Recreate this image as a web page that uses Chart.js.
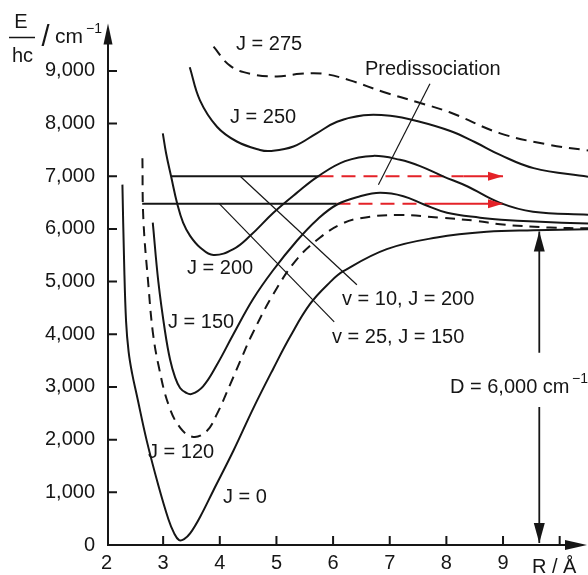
<!DOCTYPE html>
<html>
<head>
<meta charset="utf-8">
<script src="https://cdn.jsdelivr.net/npm/chart.js@4.4.1/dist/chart.umd.min.js"></script>
<style>
html, body { margin: 0; padding: 0; background: #fff; }
#wrap { width: 588px; height: 575px; }
</style>
</head>
<body>
<div id="wrap"><canvas id="chart" width="588" height="575"></canvas></div>
<script>
// R in angstrom, E/hc in cm^-1
const xTicks = [2, 3, 4, 5, 6, 7, 8, 9, 10];
const xTickLabels = ['2', '3', '4', '5', '6', '7', '8', '9', ''];
const yTicks = [0, 1000, 2000, 3000, 4000, 5000, 6000, 7000, 8000, 9000];

const rJ0 = [2.281, 2.311, 2.346, 2.39, 2.452, 2.535, 2.711, 2.916, 3.093, 3.193, 3.282, 3.37, 3.476, 3.652, 3.887, 4.24, 4.593, 4.946, 5.241, 5.594, 5.947, 6.182, 6.948, 7.831, 8.714, 9.537, 10.5];
const eJ0 = [6841, 5367, 4237, 3672, 3258, 2843, 1977, 1130, 490, 226, 94, 113, 220, 533, 1036, 1789, 2599, 3352, 3954, 4576, 4990, 5197, 5617, 5837, 5945, 5975, 5994];

const rJ120 = [2.634, 2.651, 2.74, 2.817, 2.916, 3.093, 3.299, 3.534, 3.771, 3.947, 4.182, 4.358, 4.565, 4.946, 5.359, 5.771, 6.124, 6.477, 7.13, 7.889, 8.542, 8.948, 9.831, 10.5];
const eJ120 = [7344, 6182, 4928, 4048, 3421, 2668, 2228, 2052, 2165, 2480, 3045, 3484, 3986, 4764, 5423, 5837, 6082, 6204, 6265, 6214, 6152, 6088, 6026, 6012];

const rJ150 = [2.817, 2.916, 3.034, 3.122, 3.211, 3.299, 3.405, 3.506, 3.705, 3.952, 4.235, 4.588, 4.941, 5.365, 5.718, 6.071, 6.477, 6.83, 7.241, 7.606, 8.012, 8.595, 8.966, 9.566, 10.5];
const eJ150 = [6120, 4990, 4048, 3521, 3182, 2981, 2890, 2868, 3013, 3427, 3992, 4670, 5216, 5781, 6176, 6464, 6619, 6685, 6622, 6464, 6308, 6214, 6176, 6139, 6101];

const rJ200 = [2.994, 3.052, 3.14, 3.252, 3.352, 3.476, 3.652, 3.887, 4.24, 4.535, 4.946, 5.359, 5.735, 6.212, 6.706, 7.183, 7.536, 7.942, 8.366, 8.948, 9.53, 10.5];
const eJ200 = [7814, 7438, 6999, 6464, 6120, 5869, 5649, 5504, 5617, 5869, 6308, 6685, 6999, 7287, 7387, 7312, 7193, 6999, 6811, 6496, 6327, 6270];

const rJ250 = [3.47, 3.65, 3.95, 4.30, 4.71, 4.89, 5.30, 5.71, 6.07, 6.54, 7.01, 7.48, 8.07, 8.5, 8.95, 9.54, 10.5];
const eJ250 = [9070, 8440, 7940, 7660, 7500, 7480, 7565, 7815, 8035, 8160, 8150, 8050, 7860, 7650, 7405, 7155, 6990];

const rJ275 = [3.89, 4.18, 4.54, 5.01, 5.42, 5.83, 6.30, 6.89, 7.48, 8.07, 8.95, 9.83, 10.5];
const eJ275 = [9460, 9100, 8945, 8895, 8945, 8945, 8820, 8600, 8410, 8210, 7815, 7595, 7490];

// vibrational-rotational levels
const rLevel10 = [3.14, 5.76];
const eLevel10 = [7000, 7000];
const rLevel25 = [2.63, 6.06];
const eLevel25 = [6480, 6480];
const rTunnel10 = [5.76, 8.3];
const rFree10 = [8.3, 9.0];
const rTunnel25 = [6.06, 7.62];
const rFree25 = [7.62, 9.0];

// leader lines for the labels
const rLead10 = [4.36, 6.42];
const eLead10 = [7000, 4940];
const rLead25 = [3.99, 6.02];
const eLead25 = [6480, 4237];
const rLeadPre = [6.80, 7.71];
const eLeadPre = [6840, 8756];

// dissociation energy arrow
const rD = [9.64, 9.64];
const eDUpper = [5950, 3650];
const eDLower = [2620, 40];

const INK = '#161616';
const RED = 'rgb(228, 34, 40)';
const FONT = '"Liberation Sans", Arial, sans-serif';

const pts = (r, e) => r.map((x, i) => ({ x: x, y: e[i] }));

function curve(label, r, e, dash) {
    return {
        label: label,
        data: pts(r, e),
        showLine: true,
        borderColor: INK,
        borderWidth: 2,
        borderDash: dash || [],
        pointRadius: 0,
        tension: 0.4,
        fill: false
    };
}

function straight(label, r, e, color, width, dash) {
    return {
        label: label,
        data: pts(r, e),
        showLine: true,
        borderColor: color,
        borderWidth: width,
        borderDash: dash || [],
        pointRadius: 0,
        tension: 0,
        fill: false
    };
}

function arrowHead(ctx, tx, ty, dx, dy, len, half) {
    const bx = tx - dx * len, by = ty - dy * len;
    ctx.beginPath();
    ctx.moveTo(tx, ty);
    ctx.lineTo(bx - dy * half, by + dx * half);
    ctx.lineTo(bx + dy * half, by - dx * half);
    ctx.closePath();
    ctx.fill();
}

// axes with arrows, inward ticks, labels
const decor = {
    id: 'decor',
    afterDraw(chart) {
        const { ctx, scales: { x, y } } = chart;
        const ax = x.getPixelForValue(2) + 1.5;
        const ay = y.getPixelForValue(0);
        const topY = y.getPixelForValue(9900);
        const rightX = x.getPixelForValue(10.5) - 1;
        ctx.save();
        ctx.strokeStyle = INK;
        ctx.fillStyle = INK;
        ctx.lineWidth = 2;

        ctx.beginPath();
        ctx.moveTo(ax, ay + 1);
        ctx.lineTo(ax, topY + 15);
        ctx.moveTo(ax - 1, ay);
        ctx.lineTo(rightX - 15, ay);
        ctx.stroke();
        arrowHead(ctx, ax, topY, 0, -1, 21, 4.5);
        arrowHead(ctx, rightX, ay, 1, 0, 22, 5);

        ctx.beginPath();
        yTicks.slice(1).forEach(v => {
            const py = y.getPixelForValue(v);
            ctx.moveTo(ax, py);
            ctx.lineTo(ax + 9, py);
        });
        xTicks.slice(1).forEach(v => {
            const px = x.getPixelForValue(v);
            ctx.moveTo(px, ay);
            ctx.lineTo(px, ay - 9);
        });
        ctx.stroke();

        // red arrow tips
        ctx.fillStyle = RED;
        arrowHead(ctx, x.getPixelForValue(rFree10[1]), y.getPixelForValue(eLevel10[1]), 1, 0, 15, 4.5);
        arrowHead(ctx, x.getPixelForValue(rFree25[1]), y.getPixelForValue(eLevel25[1]), 1, 0, 15, 4.5);

        // D arrow tips
        ctx.fillStyle = INK;
        arrowHead(ctx, x.getPixelForValue(rD[0]), y.getPixelForValue(eDUpper[0]), 0, -1, 20, 5.5);
        arrowHead(ctx, x.getPixelForValue(rD[1]), y.getPixelForValue(eDLower[1]), 0, 1, 20, 5.5);

        // text
        ctx.textBaseline = 'alphabetic';
        ctx.textAlign = 'left';
        ctx.font = '20px ' + FONT;
        ctx.fillText('J = 275', 236, 50);
        ctx.fillText('J = 250', 230, 123);
        ctx.fillText('Predissociation', 365, 75);
        ctx.fillText('J = 200', 187, 274);
        ctx.fillText('v = 10, J = 200', 342, 305);
        ctx.fillText('J = 150', 168, 328);
        ctx.fillText('v = 25, J = 150', 332, 343);
        ctx.fillText('J = 120', 148, 458);
        ctx.fillText('J = 0', 223, 503);
        ctx.fillText('D = 6,000 cm', 450, 393);
        ctx.fillText('R / Å', 532, 573);
        ctx.font = '14px ' + FONT;
        ctx.fillText('\u22121', 572, 383);

        // y axis title: E/hc / cm^-1
        ctx.font = '20px ' + FONT;
        ctx.textAlign = 'center';
        ctx.fillText('E', 21, 28);
        ctx.fillText('hc', 22.5, 62);
        ctx.lineWidth = 1.5;
        ctx.beginPath();
        ctx.moveTo(9, 37.5);
        ctx.lineTo(35, 37.5);
        ctx.stroke();
        ctx.textAlign = 'left';
        ctx.font = '29px ' + FONT;
        ctx.fillText('/', 41.5, 46);
        ctx.font = '21px ' + FONT;
        ctx.fillText('cm', 55, 43);
        ctx.font = '14px ' + FONT;
        ctx.fillText('\u22121', 86, 33);
        ctx.restore();
    }
};

Chart.defaults.font.family = FONT;
Chart.defaults.font.size = 20;
Chart.defaults.color = INK;

new Chart(document.getElementById('chart').getContext('2d'), {
    type: 'scatter',
    data: {
        datasets: [
            curve('J = 0', rJ0, eJ0),
            curve('J = 120', rJ120, eJ120, [10, 7]),
            curve('J = 150', rJ150, eJ150),
            curve('J = 200', rJ200, eJ200),
            curve('J = 250', rJ250, eJ250),
            curve('J = 275', rJ275, eJ275, [11, 7]),
            straight('v = 10, J = 200', rLevel10, eLevel10, INK, 2),
            straight('v = 25, J = 150', rLevel25, eLevel25, INK, 2),
            straight('tunnel 10', rTunnel10, eLevel10, RED, 2, [14, 8]),
            straight('free 10', rFree10, eLevel10, RED, 2),
            straight('tunnel 25', rTunnel25, eLevel25, RED, 2, [14, 8]),
            straight('free 25', rFree25, eLevel25, RED, 2),
            straight('lead 10', rLead10, eLead10, INK, 1.2),
            straight('lead 25', rLead25, eLead25, INK, 1.2),
            straight('lead pre', rLeadPre, eLeadPre, INK, 1.2),
            straight('D upper', rD, eDUpper, INK, 1.8),
            straight('D lower', rD, eDLower, INK, 1.8)
        ]
    },
    options: {
        responsive: false,
        animation: false,
        devicePixelRatio: 1,
        layout: { padding: { left: 0, top: 19.3, right: 0, bottom: 0 } },
        plugins: {
            legend: { display: false },
            tooltip: { enabled: false }
        },
        scales: {
            x: {
                type: 'linear',
                min: 2,
                max: 10.5,
                grid: { display: false, drawTicks: false },
                border: { display: false },
                afterFit: s => { s.height = 30; },
                afterBuildTicks: s => { s.ticks = xTicks.map(v => ({ value: v })); },
                ticks: {
                    padding: 6,
                    maxRotation: 0,
                    autoSkip: false,
                    callback: (v, i) => xTickLabels[i]
                }
            },
            y: {
                type: 'linear',
                min: 0,
                max: 9900,
                grid: { display: false, drawTicks: false },
                border: { display: false },
                afterFit: s => { s.width = 106.5; },
                afterBuildTicks: s => { s.ticks = yTicks.map(v => ({ value: v })); },
                ticks: {
                    padding: 11.5,
                    autoSkip: false,
                    callback: v => v.toLocaleString('en-US')
                }
            }
        }
    },
    plugins: [decor]
});
</script>
</body>
</html>
